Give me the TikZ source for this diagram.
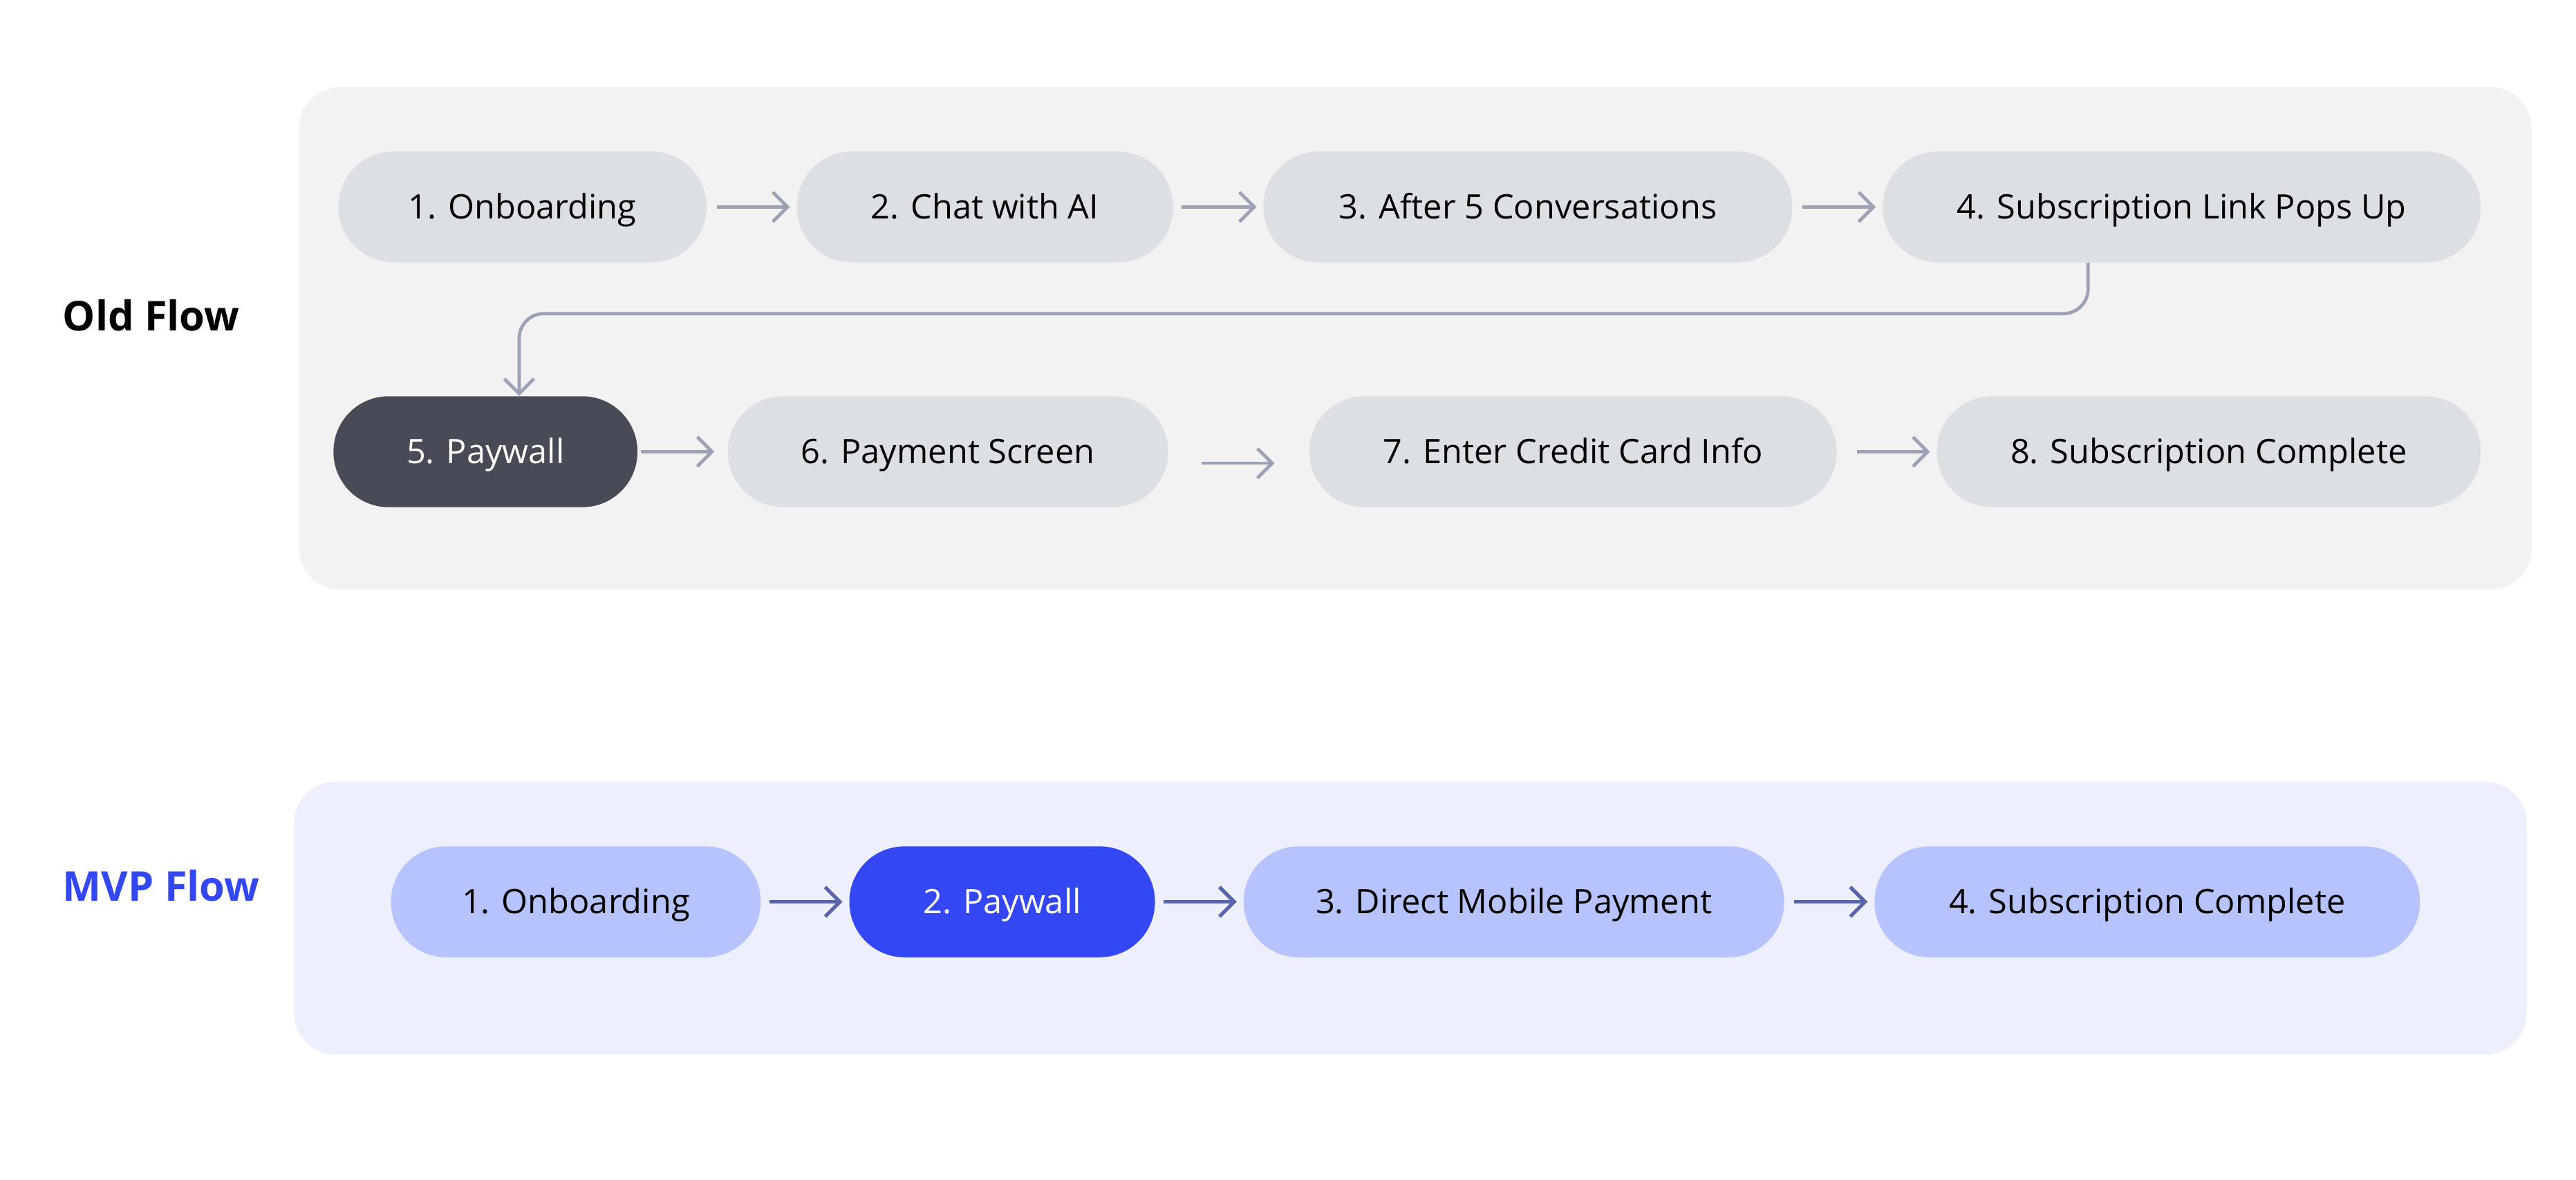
\documentclass[tikz,border=0pt]{standalone}
\usepackage{fontspec}
\setmainfont{Open Sans}
\usetikzlibrary{arrows.meta}
\definecolor{oldpanel}{HTML}{F2F2F2}
\definecolor{oldnode}{HTML}{DCDFE4}
\definecolor{darknode}{HTML}{484B55}
\definecolor{oldarrow}{HTML}{9CA1B5}
\definecolor{mvppanel}{HTML}{EDEFFD}
\definecolor{mvpnode}{HTML}{B6C3FD}
\definecolor{mvpblue}{HTML}{3447F5}
\definecolor{mvparrow}{HTML}{5A64A8}
\tikzset{
  x=1pt, y=1pt,
  pill/.style={rectangle, rounded corners=33.5pt, minimum height=67.5pt, inner sep=0pt,
    text height=16pt, text depth=2pt,
    font=\fontsize{20.5}{24}\selectfont, text=black},
  oldbox/.style={pill, fill=oldnode},
  darkbox/.style={pill, fill=darknode, text=white},
  mvpbox/.style={pill, fill=mvpnode},
  bluebox/.style={pill, fill=mvpblue, text=white},
  oldarr/.style={draw=oldarrow, line width=2pt, -{Straight Barb[length=9pt,width=18pt,line width=2pt]}},
  mvparr/.style={draw=mvparrow, line width=2.2pt, -{Straight Barb[length=9pt,width=18pt,line width=2.2pt]}},
  flowlabel/.style={anchor=west, font=\fontsize{25}{30}\selectfont\bfseries, inner sep=0pt}
}
\begin{document}
\begin{tikzpicture}
\useasboundingbox[fill=white] (0,0) rectangle (1568,718);
% panels
\fill[oldpanel, rounded corners=25pt] (182,359) rectangle (1541,665);
\fill[mvppanel, rounded corners=25pt] (179,76) rectangle (1538,242);
% labels
\node[flowlabel, text=black] (oldlbl) at (38,526) {Old Flow};
\node[flowlabel, text=mvpblue] (mvplbl) at (38,179) {MVP Flow};
% old flow nodes
\node[oldbox, minimum width=224pt] (o1) at (318,592) {1. Onboarding};
\node[oldbox, minimum width=229pt] (o2) at (599.5,592) {2. Chat with AI};
\node[oldbox, minimum width=322pt] (o3) at (930,592) {3. After 5 Conversations};
\node[oldbox, minimum width=364pt] (o4) at (1328,592) {4. Subscription Link Pops Up};
\node[darkbox, minimum width=185pt] (o5) at (295.5,443) {5. Paywall};
\node[oldbox, minimum width=268pt] (o6) at (577,443) {6. Payment Screen};
\node[oldbox, minimum width=321pt] (o7) at (957.5,443) {7. Enter Credit Card Info};
\node[oldbox, minimum width=331pt] (o8) at (1344.5,443) {8. Subscription Complete};
% old arrows
\draw[oldarr, shorten <=6pt, shorten >=4pt] (o1) -- (o2);
\draw[oldarr, shorten <=5pt, shorten >=4pt] (o2) -- (o3);
\draw[oldarr, shorten <=6pt, shorten >=4pt] (o3) -- (o4);
\draw[oldarr, rounded corners=15pt] ([xshift=-57pt]o4.south) -- ++(0,-31) -| ([xshift=20.5pt]o5.north);
\draw[oldarr, shorten <=2pt, shorten >=8pt] (o5) -- (o6);
\draw[oldarr] ([xshift=20pt,yshift=-7pt]o6.east) -- ([xshift=-21pt,yshift=-7pt]o7.west);
\draw[oldarr, shorten <=12pt, shorten >=4pt] (o7) -- (o8);
% mvp nodes
\node[mvpbox, minimum width=225pt] (m1) at (350.5,169) {1. Onboarding};
\node[bluebox, minimum width=186pt] (m2) at (610,169) {2. Paywall};
\node[mvpbox, minimum width=329pt] (m3) at (921.5,169) {3. Direct Mobile Payment};
\node[mvpbox, minimum width=332pt] (m4) at (1307,169) {4. Subscription Complete};
% mvp arrows
\draw[mvparr, shorten <=5pt, shorten >=4pt] (m1) -- (m2);
\draw[mvparr, shorten <=5pt, shorten >=4pt] (m2) -- (m3);
\draw[mvparr, shorten <=6pt, shorten >=4pt] (m3) -- (m4);
\end{tikzpicture}
\end{document}
